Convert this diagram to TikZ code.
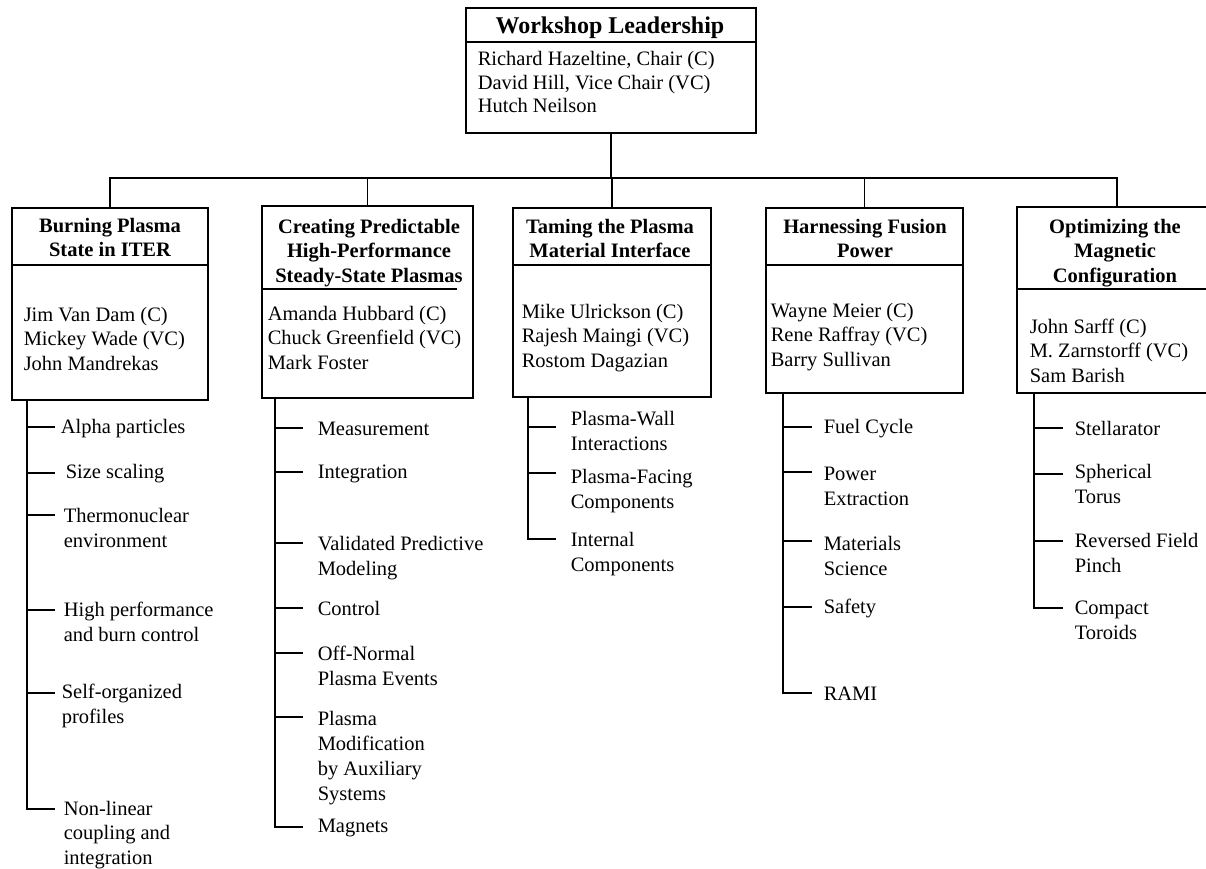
\documentclass[tikz,border=0pt]{standalone}
\usepackage{fontspec}
\setmainfont{Liberation Serif}
\newcommand\ML[1]{\begin{tabular}[t]{@{}l@{}}#1\end{tabular}}
\newcommand\MC[1]{\begin{tabular}[t]{@{}c@{}}#1\end{tabular}}
\newcommand\fsitem{\fontsize{20.5}{25}\selectfont}
\newcommand\fsbody{\fontsize{20.5}{24.5}\selectfont}
\newcommand\fstop{\fontsize{20.5}{23.5}\selectfont}
\begin{document}
\begin{tikzpicture}[x=1pt,y=-1pt,line width=1.5pt,
  box/.style={draw,line width=1.6pt,inner sep=0pt,rectangle},
  lbl/.style={inner sep=0pt,anchor=base west,font=\fsitem},
  body/.style={inner sep=0pt,anchor=base west,font=\fsbody},
  ttl/.style={inner sep=0pt,anchor=base,font=\fsbody\bfseries},
  ln/.style={line width=1.5pt}]
\useasboundingbox (0,0) rectangle (1206,869);

% ---- leadership box
\node[box,minimum width=290pt,minimum height=125pt] (lead) at (611,70.5) {};
\draw[ln] (lead.west |- 0,42) -- (lead.east |- 0,42);
\node[inner sep=0pt,anchor=base,font=\fontsize{24}{28}\selectfont\bfseries] (leadt) at (610,34) {Workshop Leadership};
\node[inner sep=0pt,anchor=base west,font=\fstop] (leadb) at (477,66) {\ML{Richard Hazeltine, Chair (C)\\David Hill, Vice Chair (VC)\\Hutch Neilson}};

% ---- branch boxes
\node[box,minimum width=196pt,minimum height=192pt] (b1) at (110,304) {};
\node[box,minimum width=211pt,minimum height=192pt] (b2) at (367.5,302) {};
\node[box,minimum width=198pt,minimum height=189pt] (b3) at (612,302.5) {};
\node[box,minimum width=197pt,minimum height=185pt] (b4) at (864.5,300.5) {};
\node[box,minimum width=200pt,minimum height=186pt] (b5) at (1117,300) {};

\draw[ln] (b1.west |- 0,265) -- (b1.east |- 0,265);
\draw[ln] (b2.west |- 0,289) -- (457,289);
\draw[ln] (b3.west |- 0,265) -- (b3.east |- 0,265);
\draw[ln] (b4.west |- 0,265) -- (b4.east |- 0,265);
\draw[ln] (b5.west |- 0,289) -- (b5.east |- 0,289);

% ---- bus
\coordinate (bus) at (611,178);
\draw[ln] (lead.south) -- (bus);
\draw[ln] (b1.north) |- (bus);
\draw[ln] (b5.north) |- (bus);
\draw[ln] (b2.north) -- (b2.north |- bus);
\draw[ln] (b3.north) -- (b3.north |- bus);
\draw[ln] (b4.north) -- (b4.north |- bus);

% ---- box titles and members
\node[ttl] (t1) at (110,232) {\MC{Burning Plasma\\State in ITER}};
\node[body] (m1) at (23,321) {\ML{Jim Van Dam (C)\\Mickey Wade (VC)\\John Mandrekas}};

\node[ttl] (t2) at (369,233) {\MC{Creating Predictable\\High-Performance\\Steady-State Plasmas}};
\node[body] (m2) at (267,320) {\ML{Amanda Hubbard (C)\\Chuck Greenfield (VC)\\Mark Foster}};

\node[ttl] (t3) at (610,233) {\MC{Taming the Plasma\\Material Interface}};
\node[body] (m3) at (521,318) {\ML{Mike Ulrickson (C)\\Rajesh Maingi (VC)\\Rostom Dagazian}};

\node[ttl] (t4) at (865,233) {\MC{Harnessing Fusion\\Power}};
\node[body] (m4) at (770,317) {\ML{Wayne Meier (C)\\Rene Raffray (VC)\\Barry Sullivan}};

\node[ttl] (t5) at (1115,233) {\MC{Optimizing the\\Magnetic\\Configuration}};
\node[body] (m5) at (1029,333) {\ML{John Sarff (C)\\M. Zarnstorff (VC)\\Sam Barish}};

% ---- column 1
\coordinate (s1) at (27,400);
\coordinate (e1) at (55,809);
\draw[ln] (s1) |- (e1);
\foreach \y in {427,473,515,610,693} \draw[ln] (s1 |- 0,\y) -- (e1 |- 0,\y);
\node[lbl] (c1a) at (60,433) {Alpha particles};
\node[lbl] (c1b) at (65,478) {Size scaling};
\node[lbl] (c1c) at (63,522) {\ML{Thermonuclear\\environment}};
\node[lbl] (c1d) at (63,616) {\ML{High performance\\and burn control}};
\node[lbl] (c1e) at (61,698) {\ML{Self-organized\\profiles}};
\node[lbl,font=\fontsize{20.5}{24.5}\selectfont] (c1f) at (63,815) {\ML{Non-linear\\coupling and\\integration}};

% ---- column 2
\coordinate (s2) at (275,398);
\coordinate (e2) at (303,827);
\draw[ln] (s2) |- (e2);
\foreach \y in {428,472,543,608,653,717} \draw[ln] (s2 |- 0,\y) -- (e2 |- 0,\y);
\node[lbl] (c2a) at (317,435) {Measurement};
\node[lbl] (c2b) at (317,478) {Integration};
\node[lbl] (c2c) at (317,550) {\ML{Validated Predictive\\Modeling}};
\node[lbl] (c2d) at (317,615) {Control};
\node[lbl] (c2e) at (317,660) {\ML{Off-Normal\\Plasma Events}};
\node[lbl] (c2f) at (317,725) {\ML{Plasma\\Modification\\by Auxiliary\\Systems}};
\node[lbl] (c2g) at (317,832) {Magnets};

% ---- column 3
\coordinate (s3) at (528,397);
\coordinate (e3) at (556,539);
\draw[ln] (s3) |- (e3);
\foreach \y in {427,473} \draw[ln] (s3 |- 0,\y) -- (e3 |- 0,\y);
\node[lbl] (c3a) at (570,425) {\ML{Plasma-Wall\\Interactions}};
\node[lbl] (c3b) at (570,483) {\ML{Plasma-Facing\\Components}};
\node[lbl] (c3c) at (570,546) {\ML{Internal\\Components}};

% ---- column 4
\coordinate (s4) at (783,393);
\coordinate (e4) at (812,693);
\draw[ln] (s4) |- (e4);
\foreach \y in {427,472,541,607} \draw[ln] (s4 |- 0,\y) -- (e4 |- 0,\y);
\node[lbl] (c4a) at (823,433) {Fuel Cycle};
\node[lbl] (c4b) at (823,480) {\ML{Power\\Extraction}};
\node[lbl] (c4c) at (823,550) {\ML{Materials\\Science}};
\node[lbl] (c4d) at (823,613) {Safety};
\node[lbl] (c4e) at (823,700) {RAMI};

% ---- column 5
\coordinate (s5) at (1034,393);
\coordinate (e5) at (1063,608);
\draw[ln] (s5) |- (e5);
\foreach \y in {428,474,541} \draw[ln] (s5 |- 0,\y) -- (e5 |- 0,\y);
\node[lbl] (c5a) at (1074,435) {Stellarator};
\node[lbl] (c5b) at (1074,478) {\ML{Spherical\\Torus}};
\node[lbl] (c5c) at (1074,547) {\ML{Reversed Field\\Pinch}};
\node[lbl] (c5d) at (1074,614) {\ML{Compact\\Toroids}};
\end{tikzpicture}
\end{document}
